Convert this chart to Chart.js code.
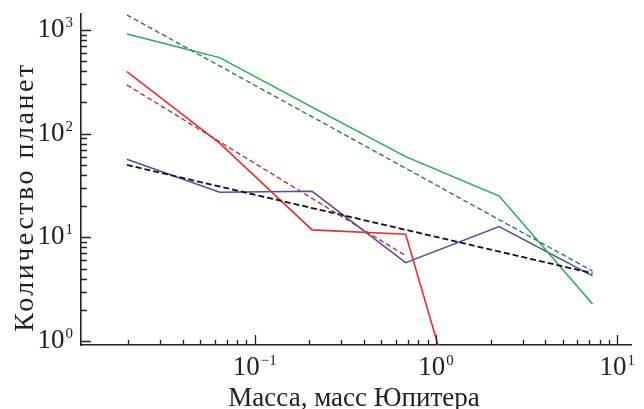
<!DOCTYPE html>
<html>
<head>
<meta charset="utf-8">
<script src="https://cdn.jsdelivr.net/npm/chart.js@4.4.1/dist/chart.umd.min.js"></script>
<style>
  html, body { margin: 0; padding: 0; background: #fff; }
  canvas { display: block; }
</style>
</head>
<body>
<canvas id="massChart" width="644" height="409"></canvas>
<script>
// Центры бинов по массе (в массах Юпитера)
const masses = [0.0197, 0.064, 0.207, 0.68, 2.23, 7.3];

// Гистограммы (сплошные линии)
const greenCounts = [915, 541, 180, 60, 25, 2.27];
const redCounts = [396, 81, 11.8, 10.7, 0.0087, null];
const blueCounts = [56.6, 27.2, 27.8, 5.69, 12.7, 4.24];

// Степенные аппроксимации (штриховые линии), концы отрезков
const greenFitX = [0.0197, 7.3];
const greenFitY = [1396, 4.73];
const redFitX = [0.0197, 0.68];
const redFitY = [295, 6.65];
const blackFitX = [0.0197, 7.3];
const blackFitY = [49.9, 4.5];

// Подписи осей
const xMajorTicks = [0.1, 1, 10];
const xMajorExp = ["\u22121", "0", "1"];
const yMajorTicks = [1, 10, 100, 1000];
const yMajorExp = ["0", "1", "2", "3"];
const xTitle = "Масса, масс Юпитера";
const yTitle = "Количество планет";

const serif = "'Liberation Serif', 'Times New Roman', serif";

function toPoints(xs, ys) {
    return xs.map((x, i) => ({ x: x, y: ys[i] })).filter((p) => p.y !== null);
}

function drawPower(ctx, x, y, exp, align) {
    // "10" с показателем степени
    ctx.font = "27px " + serif;
    const wBase = ctx.measureText("10").width;
    ctx.font = "15px " + serif;
    const wExp = ctx.measureText(exp).width;
    const total = wBase + wExp + 1;
    let left = align === "right" ? x - total : x - total / 2;
    ctx.textAlign = "left";
    ctx.textBaseline = "alphabetic";
    ctx.font = "27px " + serif;
    ctx.fillText("10", left, y);
    ctx.font = "15px " + serif;
    ctx.fillText(exp, left + wBase + 1, y - 10);
}

const axisDecor = {
    id: "axisDecor",
    afterDraw(chart) {
        const ctx = chart.ctx;
        const xs = chart.scales.x;
        const ys = chart.scales.y;
        const area = chart.chartArea;
        ctx.save();
        ctx.strokeStyle = "#222";
        ctx.lineWidth = 1.3;
        ctx.beginPath();
        for (let e = -2; e <= 1; e++) {
            for (let m = 1; m <= 9; m++) {
                const v = m * Math.pow(10, e);
                if (v < xs.min || v > xs.max) continue;
                const px = Math.round(xs.getPixelForValue(v)) + 0.5;
                const len = m === 1 ? 10 : 5;
                ctx.moveTo(px, area.bottom);
                ctx.lineTo(px, area.bottom - len);
            }
        }
        for (let e = 0; e <= 3; e++) {
            for (let m = 1; m <= 9; m++) {
                const v = m * Math.pow(10, e);
                if (v < ys.min || v > ys.max) continue;
                const py = Math.round(ys.getPixelForValue(v)) + 0.5;
                const len = m === 1 ? 10 : 6;
                ctx.moveTo(area.left, py);
                ctx.lineTo(area.left + len, py);
            }
        }
        ctx.stroke();

        ctx.fillStyle = "#222";
        xMajorTicks.forEach((v, i) => {
            drawPower(ctx, xs.getPixelForValue(v), 375, xMajorExp[i], "center");
        });
        yMajorTicks.forEach((v, i) => {
            drawPower(ctx, 73, ys.getPixelForValue(v) + 7, yMajorExp[i], "right");
        });

        ctx.font = "27px " + serif;
        ctx.textAlign = "center";
        ctx.textBaseline = "alphabetic";
        ctx.fillText(xTitle, 354, 406);

        ctx.translate(33, 197);
        ctx.rotate(-Math.PI / 2);
        ctx.font = "28px " + serif;
        ctx.letterSpacing = "2.5px";
        ctx.fillText(yTitle, 0, 0);
        ctx.restore();
    },
};

const ctx1 = document.getElementById("massChart").getContext("2d");

new Chart(ctx1, {
    type: "line",
    data: {
        datasets: [
            {
                data: toPoints(greenFitX, greenFitY),
                borderColor: "#2f7a4a",
                borderWidth: 1.4,
                borderDash: [5, 3],
            },
            {
                data: toPoints(redFitX, redFitY),
                borderColor: "#b0343a",
                borderWidth: 1.4,
                borderDash: [5, 3],
            },
            {
                data: toPoints(blackFitX, blackFitY),
                borderColor: "#111",
                borderWidth: 1.8,
                borderDash: [6, 3],
            },
            {
                data: toPoints(masses, greenCounts),
                borderColor: "#1fae4e",
                borderWidth: 1.5,
            },
            {
                data: toPoints(masses, redCounts),
                borderColor: "#f42a2a",
                borderWidth: 1.6,
            },
            {
                data: toPoints(masses, blueCounts),
                borderColor: "#4b4fae",
                borderWidth: 1.5,
            },
        ],
    },
    options: {
        responsive: false,
        animation: false,
        devicePixelRatio: 1,
        layout: { padding: { left: 81, right: 13, top: 14, bottom: 64 } },
        elements: {
            point: { radius: 0 },
            line: { tension: 0, fill: false },
        },
        scales: {
            x: {
                type: "logarithmic",
                min: 0.011,
                max: 11.9,
                ticks: { display: false },
                grid: { display: false, drawTicks: false },
                border: { display: true, color: "#222", width: 1.6 },
            },
            y: {
                type: "logarithmic",
                min: 0.915,
                max: 1426,
                ticks: { display: false },
                grid: { display: false, drawTicks: false },
                border: { display: true, color: "#222", width: 1.6 },
            },
        },
        plugins: {
            legend: { display: false },
            tooltip: { enabled: false },
        },
    },
    plugins: [axisDecor],
});
</script>
</body>
</html>
